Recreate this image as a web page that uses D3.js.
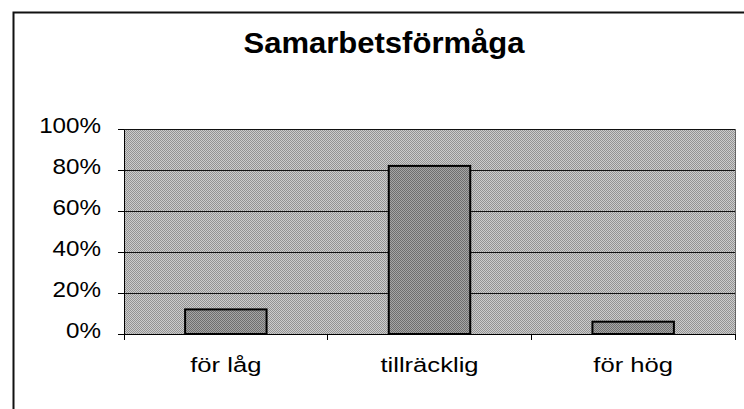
<!DOCTYPE html>
<html>
<head>
<meta charset="utf-8">
<script src="https://cdn.jsdelivr.net/npm/d3@7"></script>
<style>
  body { margin: 0; background: #fff; }
  text { font-family: "Liberation Sans", Arial, sans-serif; fill: #000; }
</style>
</head>
<body>
<svg id="chart"></svg>
<script>
const title = 'Samarbetsförmåga';
const categories = ['för låg', 'tillräcklig', 'för hög'];
const values = [0.12, 0.82, 0.06];
const yTicks = [0, 0.2, 0.4, 0.6, 0.8, 1];

(function() {
    const W = 744, H = 409;
    const plot = { left: 124, right: 735, top: 129, bottom: 334 };

    const svg = d3.select('svg#chart')
        .attr('width', W)
        .attr('height', H);

    // dithered-looking fills
    const defs = svg.append('defs');
    function checker(id, light, dark) {
        const p = defs.append('pattern')
            .attr('id', id)
            .attr('patternUnits', 'userSpaceOnUse')
            .attr('width', 2).attr('height', 2);
        p.append('rect').attr('width', 2).attr('height', 2).attr('fill', light);
        p.append('rect').attr('width', 1).attr('height', 1).attr('fill', dark);
        p.append('rect').attr('x', 1).attr('y', 1).attr('width', 1).attr('height', 1).attr('fill', dark);
    }
    checker('bgFill', '#cdcdcd', '#939393');
    checker('barFill', '#a6a6a6', '#6e6e6e');

    // outer frame (only left and top edges show in the window)
    svg.append('path')
        .attr('d', `M13.5,${H + 5}V12.5H${W + 5}`)
        .attr('fill', 'none')
        .attr('stroke', '#111')
        .attr('stroke-width', 2);

    svg.append('text')
        .attr('transform', 'translate(384,53) scale(1.07,1)')
        .attr('text-anchor', 'middle')
        .style('font-size', '29px')
        .style('font-weight', 'bold')
        .text(title);

    const yScale = d3.scaleLinear()
        .domain([0, 1])
        .range([plot.bottom, plot.top]);

    const xScale = d3.scaleBand()
        .domain(categories)
        .range([plot.left, plot.right])
        .padding(0);

    // plot area
    svg.append('rect')
        .attr('x', plot.left)
        .attr('y', plot.top)
        .attr('width', plot.right - plot.left)
        .attr('height', plot.bottom - plot.top)
        .attr('fill', 'url(#bgFill)')
        .attr('stroke', '#666')
        .attr('stroke-width', 1)
        .attr('shape-rendering', 'crispEdges');

    // gridlines
    svg.append('g')
        .attr('transform', `translate(${plot.left},0)`)
        .call(d3.axisLeft(yScale)
            .tickValues(yTicks.filter(d => d > 0))
            .tickSize(-(plot.right - plot.left))
            .tickFormat(''))
        .call(g => g.select('.domain').remove())
        .call(g => g.selectAll('line')
            .attr('stroke', '#111')
            .attr('shape-rendering', 'crispEdges'));

    // bars
    const barW = xScale.bandwidth() / 2.5;
    svg.append('g')
        .selectAll('rect')
        .data(values)
        .enter()
        .append('rect')
        .attr('x', (d, i) => xScale(categories[i]) + (xScale.bandwidth() - barW) / 2)
        .attr('y', d => yScale(d))
        .attr('width', barW)
        .attr('height', d => yScale(0) - yScale(d))
        .attr('fill', 'url(#barFill)')
        .attr('stroke', '#000')
        .attr('stroke-width', 2);

    // y axis
    svg.append('g')
        .attr('transform', `translate(${plot.left},0)`)
        .call(d3.axisLeft(yScale)
            .tickValues(yTicks)
            .tickSize(6)
            .tickSizeOuter(0)
            .tickFormat(d3.format('.0%')))
        .call(g => g.select('.domain').attr('stroke', '#000').attr('shape-rendering', 'crispEdges'))
        .call(g => g.selectAll('line').attr('stroke', '#000').attr('shape-rendering', 'crispEdges'))
        .call(g => g.selectAll('text')
            .attr('x', null)
            .attr('dy', null)
            .attr('text-anchor', 'end')
            .attr('transform', 'translate(-23,3) scale(1.1,1)')
            .style('font-size', '22px'));

    // x axis line and boundary ticks
    const bounds = categories.map(c => xScale(c)).concat([plot.right]);
    svg.append('line')
        .attr('x1', plot.left).attr('x2', plot.right)
        .attr('y1', plot.bottom).attr('y2', plot.bottom)
        .attr('stroke', '#000')
        .attr('shape-rendering', 'crispEdges');
    svg.append('g')
        .selectAll('line')
        .data(bounds)
        .enter()
        .append('line')
        .attr('x1', d => d).attr('x2', d => d)
        .attr('y1', plot.bottom).attr('y2', plot.bottom + 6)
        .attr('stroke', '#000')
        .attr('shape-rendering', 'crispEdges');

    // category labels
    svg.append('g')
        .attr('transform', `translate(0,${plot.bottom})`)
        .call(d3.axisBottom(xScale).tickSize(0))
        .call(g => g.select('.domain').remove())
        .call(g => g.selectAll('text')
            .attr('y', null)
            .attr('dy', null)
            .attr('text-anchor', 'middle')
            .attr('transform', 'translate(0,38) scale(1.22,1)')
            .style('font-size', '21px'));
})();
</script>
</body>
</html>
